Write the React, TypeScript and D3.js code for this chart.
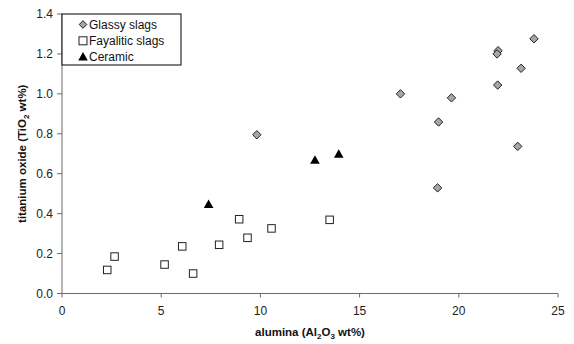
import React from "react";
import * as d3 from "d3";

const glassyX = [23.79, 21.98, 21.93, 23.14, 21.96, 17.06, 19.63, 18.98, 22.97, 18.93, 9.82];
const glassyY = [1.276, 1.216, 1.2, 1.128, 1.044, 1.0, 0.98, 0.859, 0.737, 0.529, 0.795];
const fayaliticX = [2.28, 2.65, 5.17, 6.06, 6.61, 7.92, 8.93, 9.35, 10.56, 13.49];
const fayaliticY = [0.118, 0.185, 0.145, 0.236, 0.1, 0.244, 0.372, 0.279, 0.326, 0.369];
const ceramicX = [7.39, 12.75, 13.95];
const ceramicY = [0.446, 0.668, 0.697];
const xTicks = [0, 5, 10, 15, 20, 25];
const yTicks = [0, 0.2, 0.4, 0.6, 0.8, 1.0, 1.2, 1.4];
const legendLabels = ["Glassy slags", "Fayalitic slags", "Ceramic"];

const W = 574;
const H = 344;
const left = 62;
const right = 558;
const top = 14;
const bottom = 293.5;
const font = "'Liberation Sans', Arial, sans-serif";
const axisColor = "#6b6b6b";

export default function App() {
  const x = d3.scaleLinear().domain([0, 25]).range([left, right]);
  const y = d3.scaleLinear().domain([0, 1.4]).range([bottom, top]);
  const diamond = (cx: number, cy: number, r = 4.2) =>
    `M${cx},${cy - r}L${cx + r},${cy}L${cx},${cy + r}L${cx - r},${cy}Z`;
  const triangle = (cx: number, cy: number) =>
    `M${cx},${cy - 5}L${cx + 4.8},${cy + 3.5}L${cx - 4.8},${cy + 3.5}Z`;
  const square = (cx: number, cy: number, s = 7.5) => (
    <rect x={cx - s / 2} y={cy - s / 2} width={s} height={s} fill="#fff" stroke="#222" strokeWidth={1} />
  );

  return (
    <svg width={W} height={H} style={{ position: "absolute", left: 0, top: 0, background: "#fff" }} fontFamily={font}>
      {/* axes */}
      <line x1={left} x2={left} y1={top} y2={bottom} stroke={axisColor} strokeWidth={1} />
      <line x1={left} x2={right} y1={bottom} y2={bottom} stroke={axisColor} strokeWidth={1} />
      {yTicks.map((t) => (
        <g key={"y" + t}>
          <line x1={left - 5} x2={left} y1={y(t)} y2={y(t)} stroke={axisColor} />
          <text x={left - 9} y={y(t)} dy="0.35em" textAnchor="end" fontSize={12} fill="#222">
            {t.toFixed(1)}
          </text>
        </g>
      ))}
      {xTicks.map((t) => (
        <g key={"x" + t}>
          <line x1={x(t)} x2={x(t)} y1={bottom} y2={bottom + 4} stroke={axisColor} />
          <text x={x(t)} y={315} textAnchor="middle" fontSize={12} fill="#222">
            {t}
          </text>
        </g>
      ))}
      {/* axis titles */}
      <text x={(left + right) / 2} y={336} textAnchor="middle" fontSize={11.5} fontWeight="bold" fill="#111">
        alumina (Al<tspan dy="3" fontSize={8}>2</tspan>
        <tspan dy="-3">O</tspan>
        <tspan dy="3" fontSize={8}>3</tspan>
        <tspan dy="-3"> wt%)</tspan>
      </text>
      <text
        transform={`translate(26,${(top + bottom) / 2}) rotate(-90)`}
        textAnchor="middle"
        fontSize={11.5}
        fontWeight="bold"
        fill="#111"
      >
        titanium oxide (TiO<tspan dy="3" fontSize={8}>2</tspan>
        <tspan dy="-3"> wt%)</tspan>
      </text>
      {/* data */}
      {fayaliticX.map((v, i) => (
        <g key={"f" + i}>{square(x(v), y(fayaliticY[i]))}</g>
      ))}
      {glassyX.map((v, i) => (
        <path key={"g" + i} d={diamond(x(v), y(glassyY[i]))} fill="#a6a6a6" stroke="#222" strokeWidth={1} />
      ))}
      {ceramicX.map((v, i) => (
        <path key={"c" + i} d={triangle(x(v), y(ceramicY[i]))} fill="#000" />
      ))}
      {/* legend */}
      <rect x={62} y={14} width={119} height={51} fill="#fff" stroke="#000" strokeWidth={1} />
      {legendLabels.map((l, i) => {
        const cy = 24.5 + i * 16.3;
        const mx = 83;
        return (
          <g key={l}>
            {i === 0 && <path d={diamond(mx, cy, 3.8)} fill="#a6a6a6" stroke="#222" />}
            {i === 1 && square(mx, cy, 8)}
            {i === 2 && <path d={triangle(mx, cy)} fill="#000" />}
            <text x={89} y={cy} dy="0.35em" fontSize={12} fill="#111">
              {l}
            </text>
          </g>
        );
      })}
    </svg>
  );
}
